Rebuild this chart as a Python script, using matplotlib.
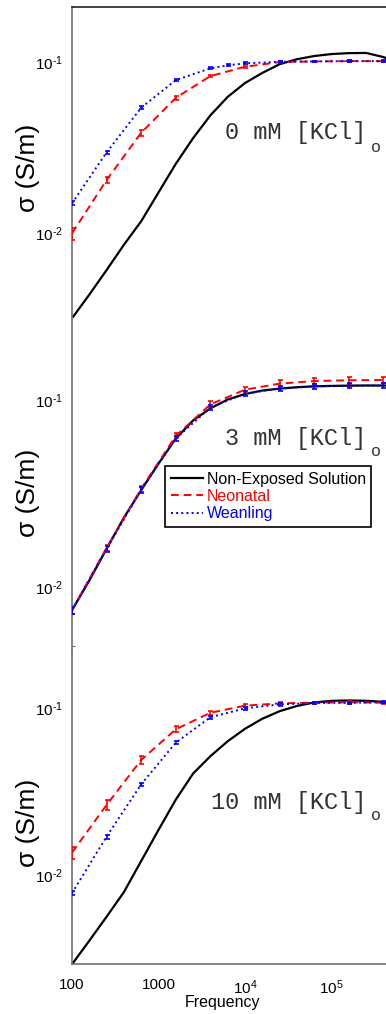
"""Conductivity vs frequency for three [KCl]o conditions (stacked panels)."""

import matplotlib
matplotlib.use("Agg")
import matplotlib.pyplot as plt
from matplotlib.ticker import FixedLocator, NullLocator

# ---------------------------------------------------------------------------
# Data
# ---------------------------------------------------------------------------

# dense frequency grid used for the non-exposed solution curves (Hz)
FREQ_SMOOTH = [100, 158, 251, 398, 631, 1000, 1585, 2512, 3981, 6310, 10000,
               15849, 25119, 39811, 63096, 100000, 158489, 251189, 398107, 630957]

# frequencies where the tissue measurements (with error bars) were taken
FREQ_PTS = [100, 251, 631, 1585, 3981, 10000, 25119, 63096, 158489, 398107]
FREQ_PTS_WEAN_0MM = [100, 251, 631, 1585, 3981, 6310, 10000, 25119, 63096,
                     158489, 398107]

# 0 mM [KCl]o
SOLUTION_0MM = [0.00317, 0.00435, 0.00607, 0.00853, 0.01172, 0.01726, 0.0254,
                0.0359, 0.0488, 0.0626, 0.0754, 0.0864, 0.0972, 0.1039, 0.1085,
                0.1114, 0.1128, 0.1131, 0.107, 0.098]
NEO_0MM = [0.00996, 0.0204, 0.0386, 0.0618, 0.0828, 0.0939, 0.1000, 0.1009,
           0.1013, 0.1013]
NEO_0MM_ERR = [0.0008, 0.0009, 0.0016, 0.0017, 0.0012, 0.0012, 0.0010, 0.0010,
               0.0010, 0.0010]
WEAN_0MM = [0.01492, 0.0296, 0.0541, 0.0785, 0.0919, 0.0957, 0.0983, 0.1004,
            0.1009, 0.1013, 0.1013]
WEAN_0MM_ERR = [0.0004, 0.0007, 0.0010, 0.0012, 0.0013, 0.0013, 0.0013, 0.0012,
                0.0012, 0.0012, 0.0012]

# 3 mM [KCl]o
SOLUTION_3MM = [0.0075, 0.0108, 0.0160, 0.0235, 0.0330, 0.0458, 0.0624, 0.0780,
                0.0905, 0.1010, 0.1080, 0.1128, 0.1155, 0.1175, 0.1188, 0.1194,
                0.1198, 0.1200, 0.1200, 0.1200]
NEO_3MM = [0.0075, 0.0162, 0.0336, 0.0645, 0.0951, 0.114, 0.1228, 0.1268,
           0.128, 0.1284]
NEO_3MM_ERR = [0.0003, 0.0006, 0.0012, 0.0020, 0.0035, 0.0045, 0.0050, 0.0052,
               0.0053, 0.0053]
WEAN_3MM = [0.0075, 0.0160, 0.0332, 0.0624, 0.0914, 0.1086, 0.1155, 0.1188,
            0.1198, 0.1200]
WEAN_3MM_ERR = [0.0003, 0.0006, 0.0012, 0.0020, 0.0030, 0.0035, 0.0038, 0.0040,
                0.0040, 0.0040]

# 10 mM [KCl]o
SOLUTION_10MM = [0.00292, 0.00403, 0.00562, 0.00789, 0.01211, 0.01858, 0.0282,
                 0.0404, 0.0513, 0.0630, 0.0748, 0.0859, 0.0953, 0.1024, 0.1075,
                 0.1099, 0.1105, 0.1100, 0.1084, 0.105]
NEO_10MM = [0.0136, 0.0262, 0.0487, 0.0743, 0.0933, 0.1028, 0.1062, 0.1071,
            0.1077, 0.1071]
NEO_10MM_ERR = [0.0011, 0.0018, 0.0027, 0.0030, 0.0025, 0.0025, 0.0020, 0.0018,
                0.0018, 0.0018]
WEAN_10MM = [0.00778, 0.01694, 0.0348, 0.0618, 0.0877, 0.0991, 0.1047, 0.1067,
             0.1071, 0.1077]
WEAN_10MM_ERR = [0.0002, 0.0005, 0.0009, 0.0014, 0.0018, 0.0020, 0.0018, 0.0016,
                 0.0016, 0.0016]

PANEL_LABELS = ["0 mM [KCl]", "3 mM [KCl]", "10 mM [KCl]"]
LEGEND_LABELS = ["Non-Exposed Solution", "Neonatal", "Weanling"]
X_TICKS = [100, 1000, 1e4, 1e5]
X_TICK_LABELS = ["100", "1000", r"$\mathdefault{10^4}$", r"$\mathdefault{10^5}$"]
Y_TICKS = [0.01, 0.1]
Y_TICK_LABELS = [r"$\mathdefault{10^{\text{-}2}}$", r"$\mathdefault{10^{\text{-}1}}$"]

# ---------------------------------------------------------------------------
# Layout (pixel geometry of the 386 x 1014 figure)
# ---------------------------------------------------------------------------

W_PX, H_PX = 386, 1014
AX_LEFT_PX = 72
AX_RIGHT_PX = 418          # x = 1e6, just outside the cropped figure
# (top px, bottom px, ylim) for each panel
PANELS = [
    (7, 318.3, (0.00317, 0.210)),
    (318.3, 654, (0.00437, 0.275)),
    (654, 964.3, (0.00292, 0.2095)),
]
LABEL_Y_PX = [168, 493, 823]
TEXT_Y_PX = [133, 438, 802]

plt.rcParams["font.family"] = ["Liberation Sans", "DejaVu Sans"]
plt.rcParams["mathtext.fontset"] = "custom"
plt.rcParams["mathtext.rm"] = "Liberation Sans"
plt.rcParams["mathtext.it"] = "Liberation Sans:italic"

SPINE_COLOR = "#6e6e6e"
RED = "#ff0000"
BLUE = "#0000ff"

fig = plt.figure(figsize=(W_PX / 100, H_PX / 100), dpi=100)

series = [
    (SOLUTION_0MM, NEO_0MM, NEO_0MM_ERR, FREQ_PTS_WEAN_0MM, WEAN_0MM, WEAN_0MM_ERR),
    (SOLUTION_3MM, NEO_3MM, NEO_3MM_ERR, FREQ_PTS, WEAN_3MM, WEAN_3MM_ERR),
    (SOLUTION_10MM, NEO_10MM, NEO_10MM_ERR, FREQ_PTS, WEAN_10MM, WEAN_10MM_ERR),
]

axes = []
for i, ((top, bottom, ylim), (sol, neo, neo_err, f_wean, wean, wean_err)) in \
        enumerate(zip(PANELS, series)):
    ax = fig.add_axes([AX_LEFT_PX / W_PX, 1 - bottom / H_PX,
                       (AX_RIGHT_PX - AX_LEFT_PX) / W_PX, (bottom - top) / H_PX])
    ax.patch.set_alpha(0)
    axes.append(ax)

    black, = ax.plot(FREQ_SMOOTH, sol, color="black", lw=1.6, zorder=2)
    eb_red = ax.errorbar(FREQ_PTS, neo, yerr=neo_err, color=RED, ls="--",
                         lw=1.4, dashes=(4, 2.5), elinewidth=1.2, capsize=1.8,
                         capthick=1.2, zorder=3)
    eb_blue = ax.errorbar(f_wean, wean, yerr=wean_err, color=BLUE, ls=":",
                          lw=1.4, elinewidth=1.2, capsize=1.8, capthick=1.2,
                          zorder=4)

    ax.set_xscale("log")
    ax.set_yscale("log")
    ax.set_xlim(100, 1e6)
    ax.set_ylim(*ylim)

    for side in ["top", "right", "bottom"]:
        ax.spines[side].set_visible(False)
    ax.spines["left"].set_color(SPINE_COLOR)
    ax.spines["left"].set_linewidth(1.2)

    ax.yaxis.set_major_locator(FixedLocator(Y_TICKS))
    ax.set_yticklabels(Y_TICK_LABELS)
    ax.yaxis.set_minor_locator(NullLocator())
    ax.tick_params(axis="y", which="major", length=0, pad=6.5, labelsize=11)
    ax.xaxis.set_major_locator(FixedLocator(X_TICKS))
    ax.xaxis.set_minor_locator(NullLocator())
    ax.tick_params(axis="x", which="major", length=0, pad=10, labelsize=11)

    if i < 2:
        ax.tick_params(axis="x", labelbottom=False)
    else:
        ax.set_xticklabels(X_TICK_LABELS)
        ax.spines["bottom"].set_visible(True)
        ax.spines["bottom"].set_color(SPINE_COLOR)
        ax.spines["bottom"].set_linewidth(1.2)
    if i == 0:
        ax.spines["top"].set_visible(True)
        ax.spines["top"].set_color("#222222")
        ax.spines["top"].set_linewidth(1.2)
    if i == 1:
        ax.yaxis.set_minor_locator(FixedLocator([0.0048]))
        ax.tick_params(axis="y", which="minor", length=2.5, direction="in",
                       width=0.8, color=SPINE_COLOR, labelleft=False)

    # y label and concentration annotation
    fig.text(28 / W_PX, 1 - LABEL_Y_PX[i] / H_PX, "σ (S/m)", rotation=90,
             ha="center", va="center", fontsize=19)
    fig.text(366 / W_PX, 1 - TEXT_Y_PX[i] / H_PX, PANEL_LABELS[i],
             ha="right", va="center", fontsize=17, family="Liberation Mono",
             color="#333333")
    fig.text(376 / W_PX, 1 - (TEXT_Y_PX[i] + 14) / H_PX, "o",
             ha="center", va="center", fontsize=12, family="Liberation Mono",
             color="#333333")

    if i == 1:
        leg = ax.legend([black, eb_red[0], eb_blue[0]], LEGEND_LABELS,
                        loc="upper left", bbox_to_anchor=(165 / W_PX, 1 - 466 / H_PX),
                        bbox_transform=fig.transFigure, borderaxespad=0,
                        fancybox=False, framealpha=1, edgecolor="black",
                        fontsize=11.5, handlelength=2.0, handletextpad=0.25,
                        labelspacing=0.15, borderpad=0.35, labelcolor="linecolor")
        leg.get_frame().set_linewidth(1.2)

fig.text(222 / W_PX, 1 - 1003 / H_PX, "Frequency", ha="center", va="center",
         fontsize=11.5)

fig.savefig("out.png", dpi=100)
